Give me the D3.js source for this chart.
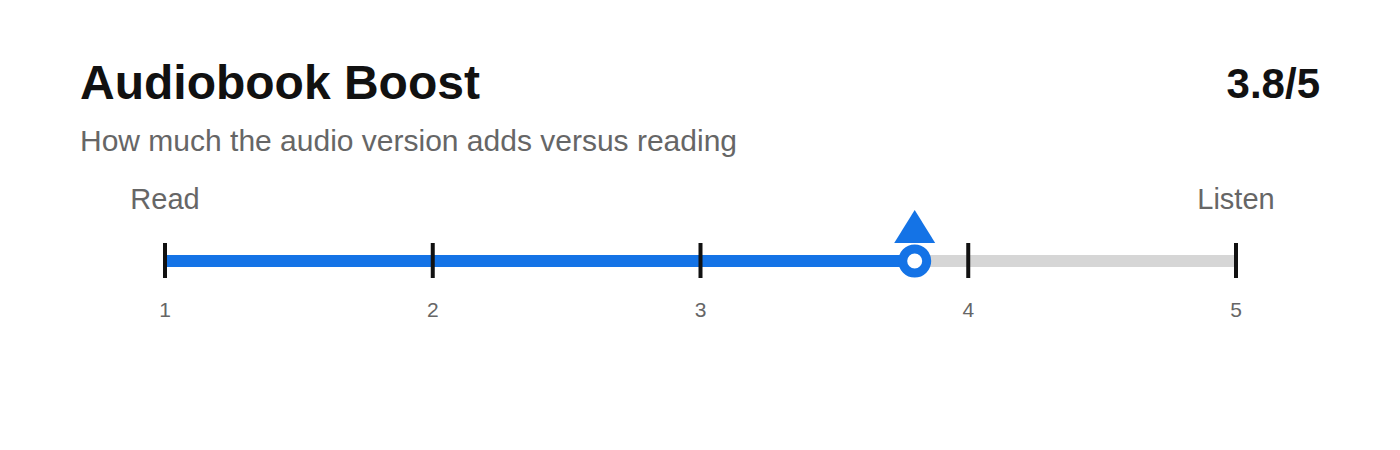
<!DOCTYPE html>
<html>
<head>
<meta charset="utf-8">
<script src="https://cdn.jsdelivr.net/npm/d3@7"></script>
<style>
  html, body { margin: 0; padding: 0; background: #fff; }
  svg { display: block; font-family: "Liberation Sans", Arial, Helvetica, sans-serif; }
</style>
</head>
<body>
<div id="chart"></div>
<script>
// ── Data ────────────────────────────────────────
const title = "Audiobook Boost";
const subtitle = "How much the audio version adds versus reading";
const scaleDomain = [1, 5];
const tickValues = [1, 2, 3, 4, 5];
const endLabels = ["Read", "Listen"];
const score = [3.8];

// ── Layout ──────────────────────────────────────
const W = 1400, H = 450;
const trackY = 261;
const blue = "#1473e6";

const svg = d3.select("#chart").append("svg")
  .attr("width", W).attr("height", H);

const x = d3.scaleLinear().domain(scaleDomain).range([165, 1236]);

// header
svg.append("text")
  .attr("x", 80).attr("y", 99)
  .attr("font-size", 48).attr("font-weight", 700).attr("fill", "#111")
  .text(title);

svg.append("text")
  .attr("x", 1320).attr("y", 98)
  .attr("text-anchor", "end")
  .attr("font-size", 42).attr("font-weight", 700).attr("fill", "#111")
  .text(`${score[0]}/${scaleDomain[1]}`);

svg.append("text")
  .attr("x", 80).attr("y", 151)
  .attr("font-size", 30).attr("fill", "#666")
  .text(subtitle);

// end labels
svg.selectAll("text.end")
  .data(endLabels)
  .join("text")
  .attr("class", "end")
  .attr("x", (d, i) => x(scaleDomain[i]))
  .attr("y", 209)
  .attr("text-anchor", "middle")
  .attr("font-size", 29).attr("fill", "#666")
  .text(d => d);

// track
svg.append("line")
  .attr("x1", x(scaleDomain[0])).attr("x2", x(scaleDomain[1]))
  .attr("y1", trackY).attr("y2", trackY)
  .attr("stroke", "#d6d6d6").attr("stroke-width", 12);

svg.append("line")
  .data(score)
  .attr("x1", x(scaleDomain[0])).attr("x2", d => x(d))
  .attr("y1", trackY).attr("y2", trackY)
  .attr("stroke", blue).attr("stroke-width", 12);

// ticks
svg.selectAll("line.tick")
  .data(tickValues)
  .join("line")
  .attr("class", "tick")
  .attr("x1", d => x(d)).attr("x2", d => x(d))
  .attr("y1", 243).attr("y2", 278)
  .attr("stroke", "#111").attr("stroke-width", 4);

svg.selectAll("text.tl")
  .data(tickValues)
  .join("text")
  .attr("class", "tl")
  .attr("x", d => x(d)).attr("y", 317)
  .attr("text-anchor", "middle")
  .attr("font-size", 21).attr("fill", "#666")
  .text(d => d);

// marker
const m = svg.selectAll("g.marker")
  .data(score)
  .join("g")
  .attr("class", "marker")
  .attr("transform", d => `translate(${x(d)},${trackY})`);

m.append("path")
  .attr("d", "M0,-51 L20.5,-18 L-20.5,-18 Z")
  .attr("fill", blue);

m.append("circle")
  .attr("r", 12)
  .attr("fill", "#fff")
  .attr("stroke", blue).attr("stroke-width", 9);
</script>
</body>
</html>
